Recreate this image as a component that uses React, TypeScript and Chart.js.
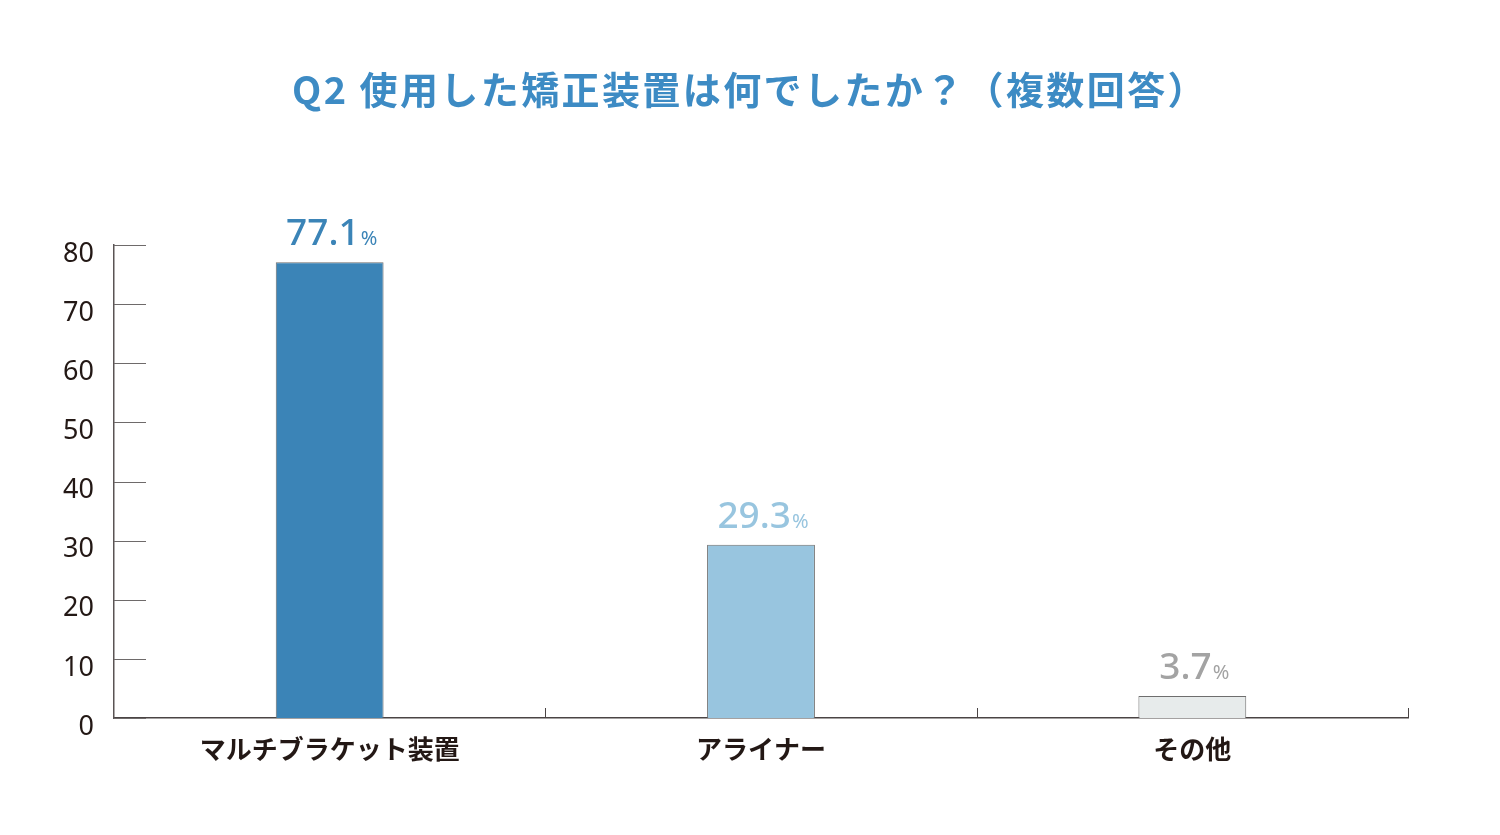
import React, { useEffect, useRef } from "react";
import { Chart, registerables } from "chart.js";

Chart.register(...registerables);

const titleText = "Q2 使用した矯正装置は何でしたか？（複数回答）";
const categories = ["マルチブラケット装置", "アライナー", "その他"];
const values = [77.1, 29.3, 3.7];
const barColors = ["#3b84b7", "#98c5df", "#e7ebeb"];
const labelColors = ["#3b84b7", "#98c5df", "#a3a3a3"];
const yTicks = [0, 10, 20, 30, 40, 50, 60, 70, 80];

const NUM_FONT = "'Noto Sans', 'DejaVu Sans', sans-serif";
const JP_FONT = "'Noto Sans CJK JP', 'Noto Sans', sans-serif";

const titleDraw = {
  id: "titleDraw",
  afterDraw(chart: any) {
    const { ctx } = chart;
    ctx.save();
    ctx.font = `bold 38px ${JP_FONT}`;
    (ctx as any).letterSpacing = "2.4px";
    ctx.fillStyle = "#3d8bc4";
    ctx.textAlign = "center";
    ctx.textBaseline = "middle";
    ctx.fillText(titleText, 750, 90);
    ctx.restore();
  },
};

const axisDecor = {
  id: "axisDecor",
  afterDraw(chart: any) {
    const { ctx, chartArea, scales } = chart;
    const y = scales.y;
    const x = scales.x;
    ctx.save();
    ctx.strokeStyle = "#6e6a6a";
    ctx.lineWidth = 1;
    yTicks.forEach((v) => {
      const py = Math.round(y.getPixelForValue(v)) + 0.5;
      ctx.beginPath();
      ctx.moveTo(chartArea.left, py);
      ctx.lineTo(chartArea.left + 32, py);
      ctx.stroke();
    });
    ctx.strokeStyle = "#4a4444";
    const seps: number[] = [];
    for (let i = 0; i < categories.length - 1; i++) {
      seps.push((x.getPixelForValue(i) + x.getPixelForValue(i + 1)) / 2);
    }
    seps.push(chartArea.right);
    seps.forEach((sx) => {
      const px = Math.round(sx) + 0.5;
      ctx.beginPath();
      ctx.moveTo(px, chartArea.bottom - 10);
      ctx.lineTo(px, chartArea.bottom);
      ctx.stroke();
    });
    ctx.restore();
  },
};

const valueLabels = {
  id: "valueLabels",
  afterDatasetsDraw(chart: any) {
    const { ctx } = chart;
    const meta = chart.getDatasetMeta(0);
    ctx.save();
    ctx.textBaseline = "alphabetic";
    meta.data.forEach((bar: any, i: number) => {
      const num = values[i].toFixed(1);
      const bigFont = `500 37px ${NUM_FONT}`;
      const smallFont = `400 20px ${NUM_FONT}`;
      ctx.font = bigFont;
      const w1 = ctx.measureText(num).width;
      ctx.font = smallFont;
      const w2 = ctx.measureText("%").width;
      const gap = 1;
      const total = w1 + gap + w2;
      const startX = bar.x - total / 2 + 2;
      const baseY = bar.y - 17;
      ctx.fillStyle = labelColors[i];
      ctx.textAlign = "left";
      ctx.font = bigFont;
      ctx.fillText(num, startX, baseY);
      ctx.font = smallFont;
      ctx.fillText("%", startX + w1 + gap, baseY);
    });
    ctx.restore();
  },
};

export default function App() {
  const canvasRef = useRef<HTMLCanvasElement | null>(null);

  useEffect(() => {
    if (!canvasRef.current) return;
    const chart = new Chart(canvasRef.current, {
      type: "bar",
      data: {
        labels: categories,
        datasets: [
          {
            data: values,
            backgroundColor: barColors,
            borderColor: "#6e6e6e",
            borderWidth: 1,
            barPercentage: 0.25,
            categoryPercentage: 1,
          },
        ],
      },
      options: {
        animation: false,
        responsive: false,
        maintainAspectRatio: false,
        layout: { padding: { left: 0, right: 92, top: 245, bottom: 0 } },
        plugins: {
          legend: { display: false },
          tooltip: { enabled: false },
          title: { display: false },
        },
        scales: {
          x: {
            offset: true,
            grid: { display: false, drawTicks: false },
            border: { display: true, color: "#4a4444", width: 1.5 },
            ticks: {
              color: "#231815",
              padding: 16,
              font: { family: JP_FONT, size: 26, weight: "bold" },
            },
            afterFit(scale: any) {
              scale.height = 117;
            },
          },
          y: {
            min: 0,
            max: 80,
            grid: { display: false, drawTicks: false },
            border: { display: true, color: "#5a5454", width: 1.5 },
            ticks: {
              stepSize: 10,
              color: "#231815",
              padding: 20,
              labelOffset: 9,
              font: { family: NUM_FONT, size: 27 },
            },
            afterFit(scale: any) {
              scale.width = 114;
            },
          },
        },
      },
      plugins: [axisDecor, valueLabels, titleDraw],
    });
    return () => chart.destroy();
  }, []);

  return (
    <div style={{ position: "fixed", left: 0, top: 0, width: 1500, height: 835, background: "#fff" }}>
      <canvas ref={canvasRef} width={1500} height={835} style={{ width: 1500, height: 835 }} />
    </div>
  );
}
